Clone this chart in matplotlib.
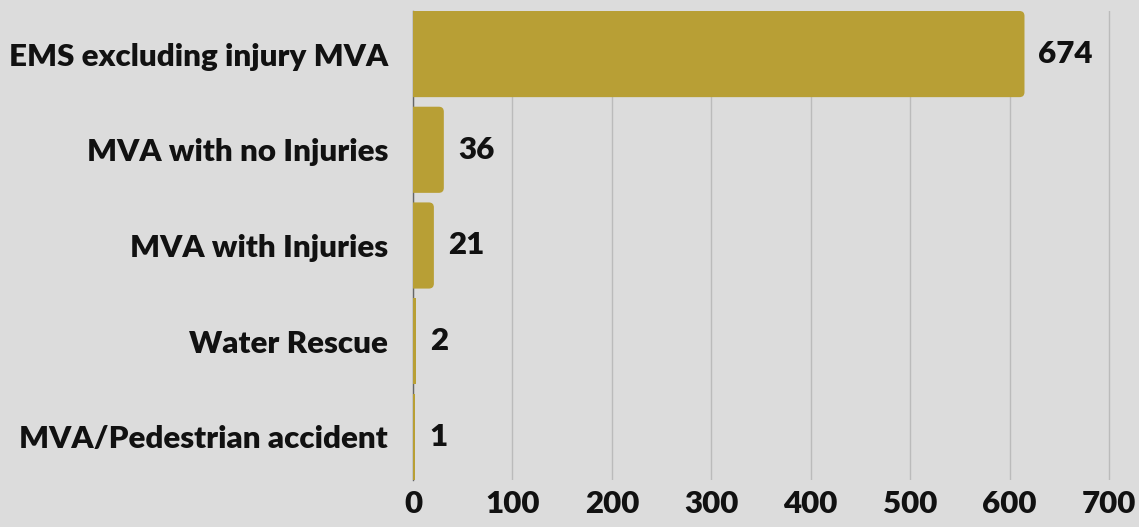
import matplotlib
matplotlib.use("Agg")
import matplotlib.pyplot as plt
from matplotlib.patches import FancyBboxPatch

categories = ["EMS excluding injury MVA", "MVA with no Injuries", "MVA with Injuries",
              "Water Rescue", "MVA/Pedestrian accident"]
bar_lengths = [615, 31, 21, 3, 2]          # drawn bar lengths
value_labels = ["674", "36", "21", "2", "1"]  # printed labels
x_ticks = [0, 100, 200, 300, 400, 500, 600, 700]

BG = "#dcdcdc"
BAR = "#b89f35"

plt.rcParams['font.family'] = ['Lato', 'DejaVu Sans']
WEIGHT = "heavy"

W, H = 1139, 527
fig = plt.figure(figsize=(W / 100, H / 100), dpi=100, facecolor=BG)
left = 413 / W
bottom = 1 - 480 / H
top = 1 - 11 / H
ax = fig.add_axes([left, bottom, 1 - left, top - bottom], facecolor=BG)

xmax = 700 * (W - 413) / 696
ax.set_xlim(0, xmax)
ax.set_ylim(4.45, -0.45)

ypos = list(range(len(categories)))
bars = ax.barh(ypos, bar_lengths, height=0.9, color=BAR, zorder=3)

px_x = xmax / (W - 413)
px_y = 4.9 / (480 - 11)
r_px = 5
for b in bars:
    x0, y0, w, h = b.get_x(), b.get_y(), b.get_width(), b.get_height()
    if w < 2 * r_px * px_x:
        continue
    b.set_visible(False)
    ext = r_px * px_x + 1
    p = FancyBboxPatch((x0 - ext, y0), w + ext, h,
                       boxstyle=f"round,pad=0,rounding_size={r_px * px_x}",
                       mutation_aspect=px_y / px_x,
                       facecolor=BAR, edgecolor="none", zorder=3)
    ax.add_patch(p)

for y, L, lab in zip(ypos, bar_lengths, value_labels):
    ax.annotate(lab, xy=(L, y), xytext=(14, 0), textcoords="offset pixels",
                ha="left", va="center", fontsize=22.5, fontweight=WEIGHT,
                color="#111111", zorder=4)

ax.set_yticks(ypos)
ax.set_yticklabels(categories, fontsize=22.5, fontweight=WEIGHT, color="#111111")
ax.set_xticks(x_ticks)
ax.set_xticklabels([str(t) for t in x_ticks], fontsize=22.5, fontweight=WEIGHT, color="#111111")
ax.tick_params(axis="y", length=0, pad=18)
ax.tick_params(axis="x", length=0, pad=7)

ax.grid(axis="x", color="#bbbbbb", linewidth=1, zorder=0)
for s in ["top", "right", "bottom"]:
    ax.spines[s].set_visible(False)
ax.spines["left"].set_color("#666666")
ax.spines["left"].set_linewidth(1)
ax.spines["left"].set_zorder(2)

fig.savefig("out.png", dpi=100, facecolor=BG)
